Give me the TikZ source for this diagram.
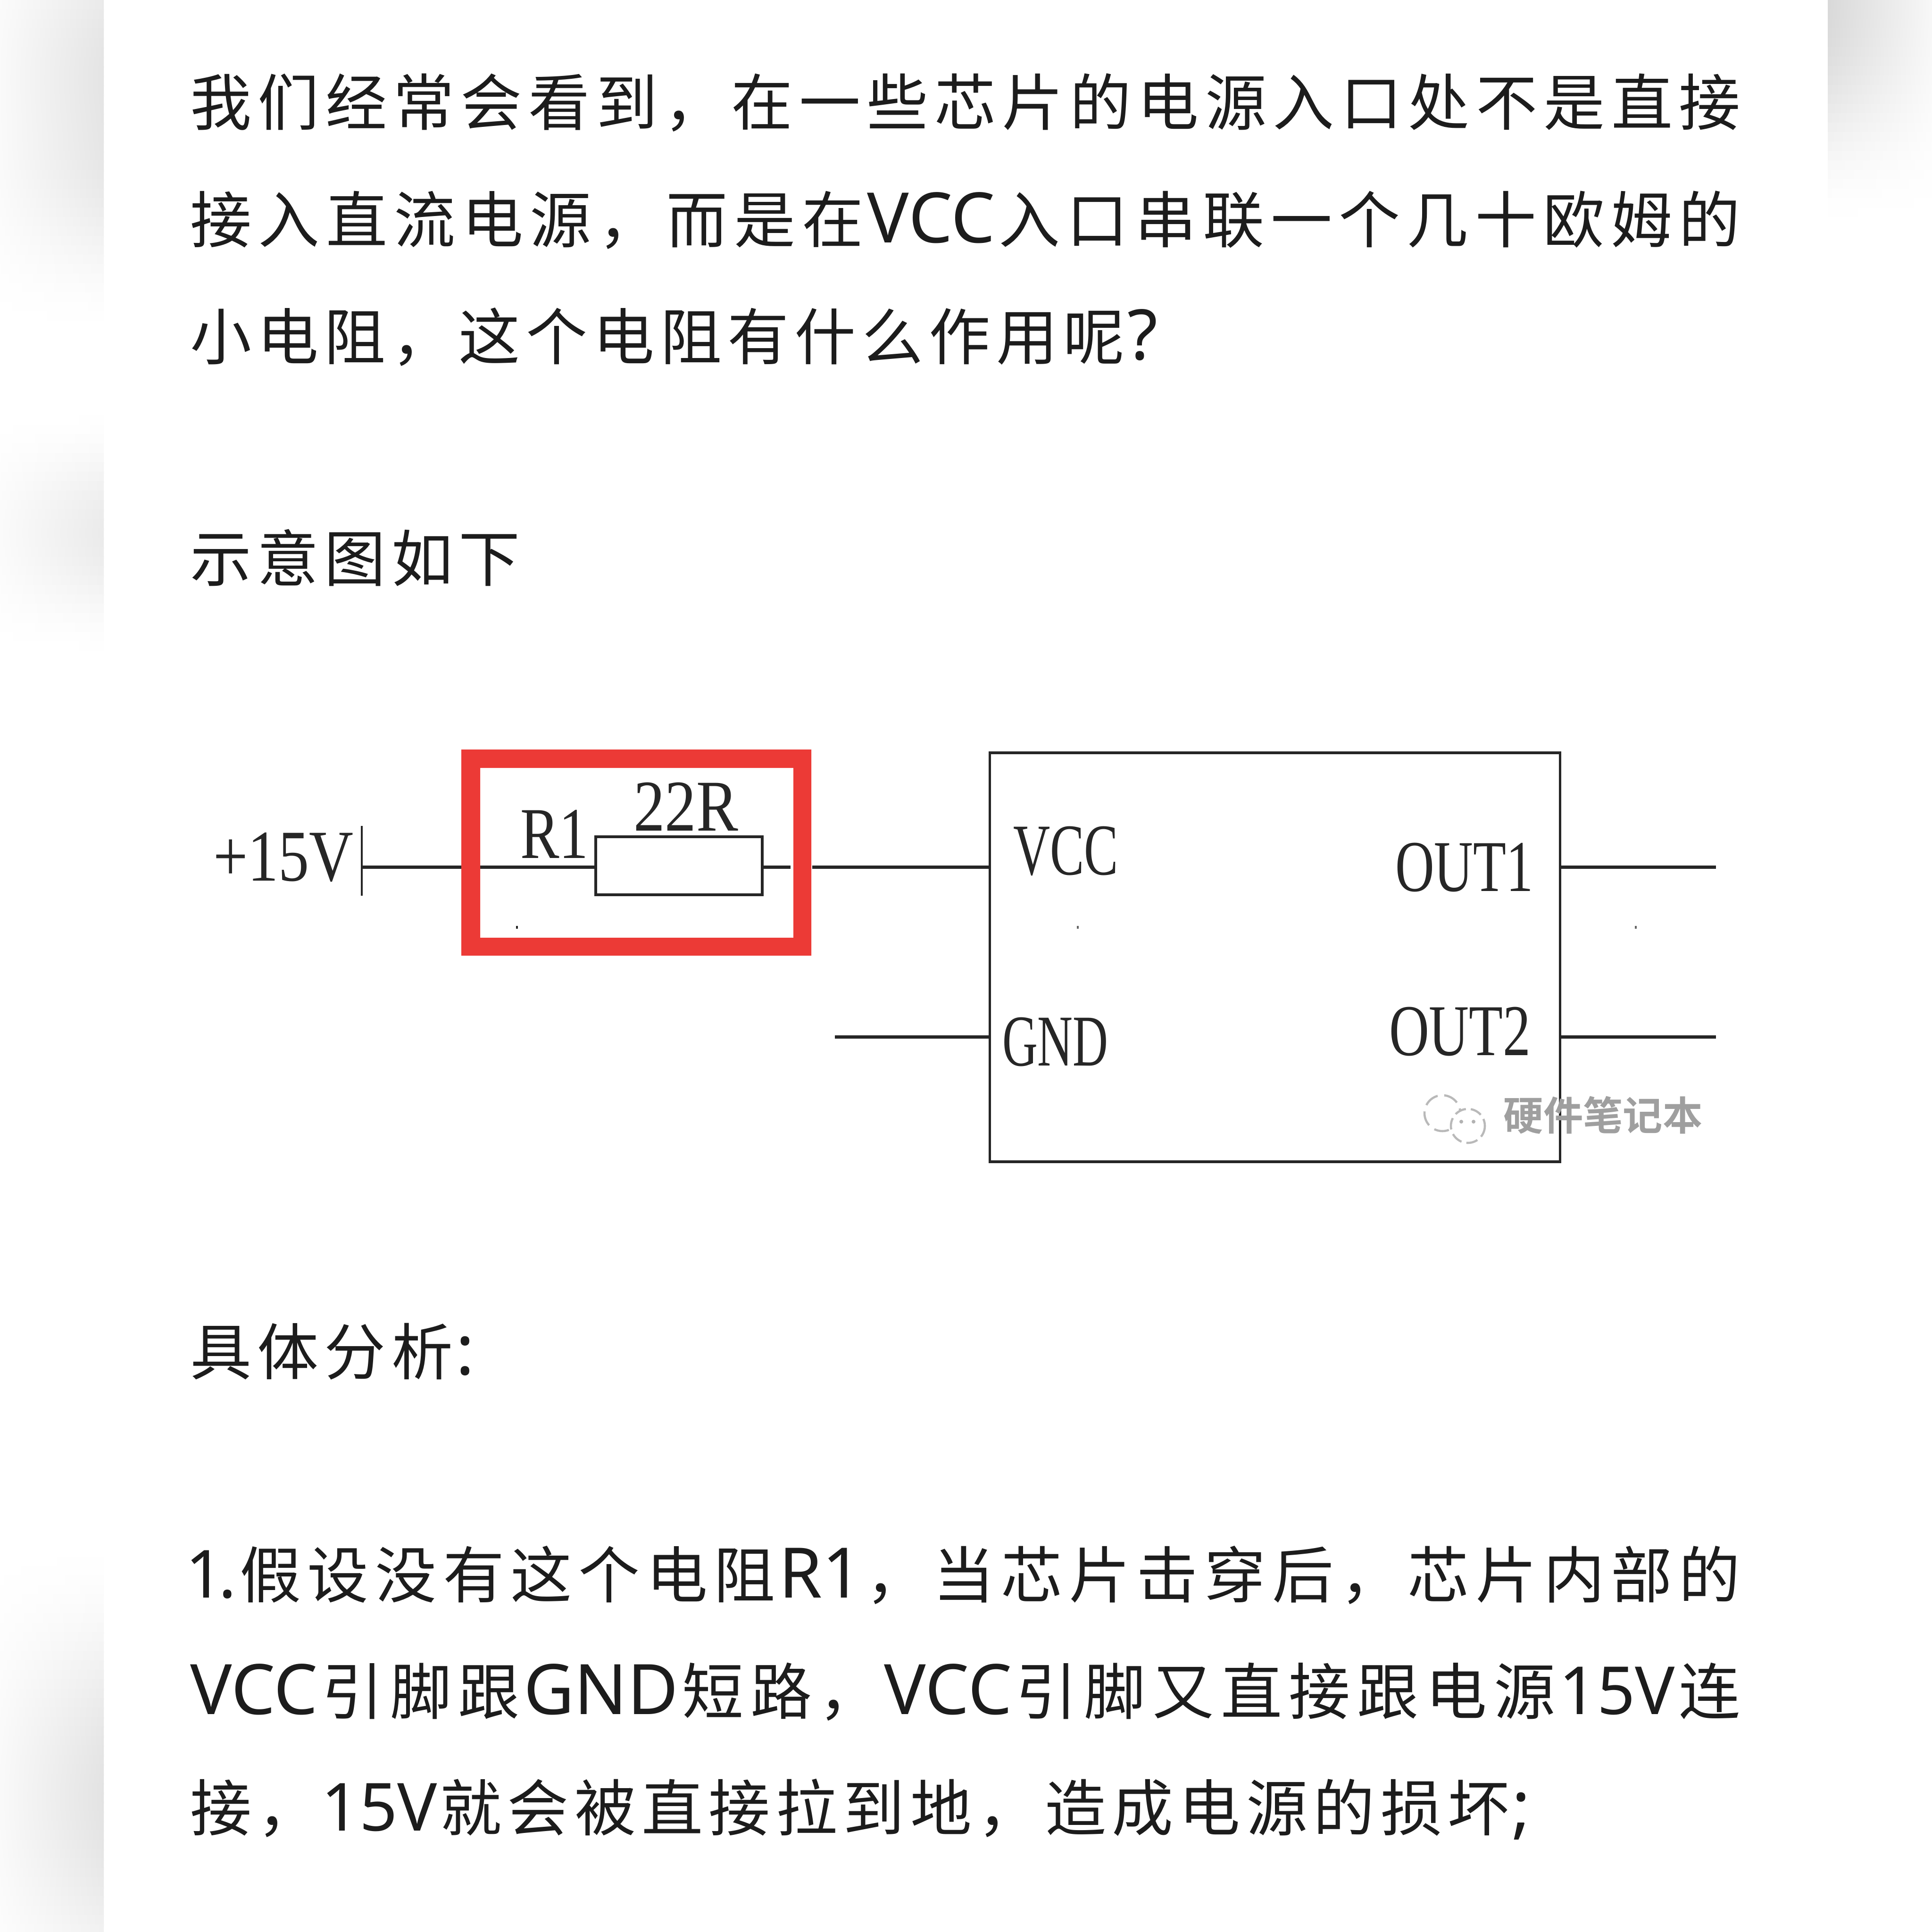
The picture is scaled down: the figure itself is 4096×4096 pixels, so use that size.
\documentclass[tikz,border=0pt]{standalone}
\usepackage{fontspec}
\setmainfont{Noto Sans CJK SC}
\newfontfamily\schem{Liberation Serif}
\newfontfamily\latf{Noto Sans}
\newfontfamily\wmfont{Noto Sans CJK SC}[BoldFont={Noto Sans CJK SC Bold}]
\newcommand\glyphcell[1]{\setbox0=\hbox{#1}%
  \ifdim\wd0<36.8pt \box0 \else\ifdim\wd0>37.2pt \box0 \else\hbox to 40.5pt{\hss\box0\hss}\fi\fi}
\ExplSyntaxOn
\NewDocumentCommand\SpreadLine{mm}{\hbox~to~#1{\tl_map_inline:nn{#2}{##1\hfil}\unskip}}
\NewDocumentCommand\JustLine{mm}{\hbox~to~#1{\tl_map_inline:nn{#2}{\glyphcell{##1}\hfil}\unskip}}
\NewDocumentCommand\PlainLine{m}{\hbox{\tl_map_inline:nn{#1}{\glyphcell{##1}}}}
\ExplSyntaxOff
\newcommand\lt[1]{{\latf\fontsize{42}{42}\selectfont #1}}
\newcommand\ltn[1]{{\latf\fontsize{40}{40}\selectfont #1}}
\definecolor{bodyink}{HTML}{1C1C1C}
\definecolor{schemink}{HTML}{262626}
\definecolor{redframe}{HTML}{EC3A36}
\tikzset{
  body/.style={anchor=base west,inner sep=0pt,outer sep=0pt,text=bodyink,font=\fontsize{37}{37}\selectfont},
  lab/.style={anchor=base west,inner sep=0pt,outer sep=0pt,text=schemink,font=\schem\fontsize{44}{44}\selectfont},
  wire/.style={draw=schemink,line width=2pt},
  part/.style={draw=schemink,line width=1.6pt,inner sep=0pt,outer sep=0pt},
  declare function={bump(\p,\c,\h)=(abs(\p-\c)<\h)?(cos(90*((\p-\c)/\h))*cos(90*((\p-\c)/\h))):0;}
}
\begin{document}
\begin{tikzpicture}[x=0.01cm,y=-0.01cm]
\useasboundingbox (0,0) rectangle (4096,4096);
\fill[white] (0,0) rectangle (4096,4096);
% page shadows beside the white card
\foreach \yy in {0,20,...,1400,3220,3240,...,4080}{
  \pgfmathsetmacro\gr{max(6*bump(\yy,0,300)+10*bump(\yy,290,420)+8*bump(\yy,1120,270)+11*bump(\yy,3800,560),0)}
  \pgfmathsetmacro\gl{\gr*0.2}
  \shade[left color=black!\gl,right color=black!\gr] (0,\yy) rectangle (220,\yy+23);
}
\foreach \yy in {0,20,...,480}{
  \pgfmathsetmacro\gl{15*bump(\yy,0,480)}
  \pgfmathsetmacro\gr{\gl*0.2}
  \shade[left color=black!\gl,right color=black!\gr] (3875,\yy) rectangle (4096,\yy+23);
}
% body text
\node[body] (t1) at (397,265) {\JustLine{32.97cm}{我们经常会看到，在一些芯片的电源入口处不是直接}};
\node[body] (t2) at (397,514) {\JustLine{32.97cm}{接入直流电源，而是在{\lt{VCC}}入口串联一个几十欧姆的}};
\node[body] (t3) at (397,762) {\PlainLine{小电阻，这个电阻有什么作用呢{\lt{?}}}};
\node[body] (t4) at (397,1232) {\PlainLine{示意图如下}};
\node[body] (t5) at (397,2914) {\PlainLine{具体分析{\lt{:}}}};
\node[body] (t6) at (393,3387) {\JustLine{33.01cm}{{\ltn{1\kern-3pt.}}假设没有这个电阻{\lt{R1}}，当芯片击穿后，芯片内部的}};
\node[body] (t7) at (403,3634) {\JustLine{32.91cm}{{\lt{VCC}}引脚跟{\lt{GND}}短路，{\lt{VCC}}引脚又直接跟电源{\ltn{15V}}连}};
\node[body] (t8) at (397,3881) {\PlainLine{接，{\ltn{15V}}就会被直接拉到地，造成电源的损坏{\lt{;}}}};
% schematic parts
\node[part,minimum width=3.53cm,minimum height=1.23cm] (r) at (1439.5,1835.5) {};
\node[part,minimum width=12.08cm,minimum height=8.67cm] (ic) at (2703,2029.5) {};
\coordinate (pwr) at (767,1838);
\coordinate (bartop) at (767,1751);
\coordinate (barbot) at (767,1899);
\coordinate (stub) at (1676,1838);
\coordinate (rout) at (1722,1838);
\coordinate (gndfree) at (1770,2198);
\coordinate (out1) at (3638,1838);
\coordinate (out2) at (3638,2198);
\draw[wire] (pwr) -- (pwr -| r.west);
\draw[wire] (pwr -| r.east) -- (stub);
\draw[wire] (rout) -- (rout -| ic.west);
\draw[wire] (gndfree) -- (gndfree -| ic.west);
\draw[wire] (out1 -| ic.east) -- (out1);
\draw[wire] (out2 -| ic.east) -- (out2);
\draw[draw=schemink,line width=1pt] (bartop) -- (barbot);
% red frame
\fill[redframe,even odd rule] (978,1589) rectangle (1720,2026) (1018,1628) rectangle (1682,1988);
% labels
\node[lab,xscale=.84] (plus) at (452,1867) {+15V};
\node[lab,xscale=.80] (r1) at (1103,1819) {R1};
\node[lab,xscale=.86] (val) at (1343,1761) {22R};
\node[lab,xscale=.70] (vcc) at (2148,1854) {VCC};
\node[lab,xscale=.67] (gnd) at (2125,2259) {GND};
\node[lab,xscale=.74] (o1) at (2958,1889) {OUT1};
\node[lab,xscale=.76] (o2) at (2945,2237) {OUT2};
% specks
\fill[schemink] (1094,1963) rectangle (1098,1969);
\fill[schemink!70] (2283,1963) rectangle (2287,1969);
\fill[schemink!70] (3466,1963) rectangle (3470,1969);
% watermark
\draw[gray!55,line width=1.3pt,dash pattern=on 9pt off 4pt] (3058,2360) circle[radius=38];
\draw[gray!55,line width=1.3pt,dash pattern=on 7pt off 3pt,fill=white] (3112,2387) circle[radius=36];
\fill[gray!60] (3098,2378) circle[radius=4] (3124,2378) circle[radius=4];
\node[anchor=base west,inner sep=0pt,text=gray!75,font=\wmfont\bfseries\fontsize{24}{24}\selectfont] (wm) at (3187,2396) {\SpreadLine{3.98cm}{硬件笔记本}};
\end{tikzpicture}
\end{document}
